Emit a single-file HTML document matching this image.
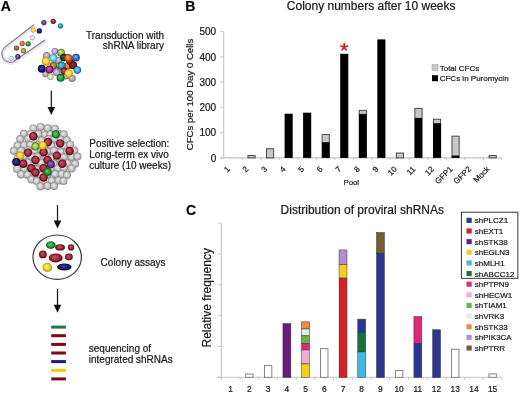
<!DOCTYPE html>
<html><head><meta charset="utf-8"><style>
html,body{margin:0;padding:0;background:#fff;}
body{width:520px;height:394px;overflow:hidden;font-family:"Liberation Sans",sans-serif;}
svg{display:block;will-change:transform;}
text{stroke:#222;stroke-width:0.2px;}
</style></head><body>
<svg width="520" height="394" viewBox="0 0 520 394">
<rect width="520" height="394" fill="#fff"/>
<defs><filter id="soft" x="-10%" y="-10%" width="120%" height="120%"><feGaussianBlur stdDeviation="0.35"/></filter><radialGradient id="g_gray" cx="0.5" cy="0.5" r="0.5" fx="0.42" fy="0.38">
<stop offset="0" stop-color="#eeeeee"/><stop offset="0.6" stop-color="#c6c6c6"/><stop offset="0.88" stop-color="#9a9a9a"/><stop offset="1" stop-color="#848484"/></radialGradient><radialGradient id="g_red" cx="0.5" cy="0.5" r="0.5" fx="0.42" fy="0.38">
<stop offset="0" stop-color="#c8586a"/><stop offset="0.6" stop-color="#a02a3a"/><stop offset="0.88" stop-color="#6e0c1a"/><stop offset="1" stop-color="#4e0610"/></radialGradient><radialGradient id="g_green" cx="0.5" cy="0.5" r="0.5" fx="0.42" fy="0.38">
<stop offset="0" stop-color="#6acc70"/><stop offset="0.6" stop-color="#2a9a3a"/><stop offset="0.88" stop-color="#136023"/><stop offset="1" stop-color="#136023"/></radialGradient><radialGradient id="g_yellow" cx="0.5" cy="0.5" r="0.5" fx="0.42" fy="0.38">
<stop offset="0" stop-color="#fff080"/><stop offset="0.6" stop-color="#f2d22a"/><stop offset="0.88" stop-color="#c8a010"/><stop offset="1" stop-color="#c8a010"/></radialGradient><radialGradient id="g_blue" cx="0.5" cy="0.5" r="0.5" fx="0.42" fy="0.38">
<stop offset="0" stop-color="#5a60c0"/><stop offset="0.6" stop-color="#2a2f8a"/><stop offset="0.88" stop-color="#141860"/><stop offset="1" stop-color="#141860"/></radialGradient><radialGradient id="g_purple" cx="0.5" cy="0.5" r="0.5" fx="0.42" fy="0.38">
<stop offset="0" stop-color="#9c70b8"/><stop offset="0.6" stop-color="#6c3a8a"/><stop offset="0.88" stop-color="#40205a"/><stop offset="1" stop-color="#40205a"/></radialGradient><radialGradient id="g_orange" cx="0.5" cy="0.5" r="0.5" fx="0.42" fy="0.38">
<stop offset="0" stop-color="#f8a060"/><stop offset="0.6" stop-color="#e86a20"/><stop offset="0.88" stop-color="#a84010"/><stop offset="1" stop-color="#a84010"/></radialGradient><radialGradient id="g_teal" cx="0.5" cy="0.5" r="0.5" fx="0.42" fy="0.38">
<stop offset="0" stop-color="#70d8e0"/><stop offset="0.6" stop-color="#20a0a8"/><stop offset="0.88" stop-color="#107080"/><stop offset="1" stop-color="#107080"/></radialGradient><radialGradient id="g_cyan" cx="0.5" cy="0.5" r="0.5" fx="0.42" fy="0.38">
<stop offset="0" stop-color="#c0f0ff"/><stop offset="0.6" stop-color="#70d0e8"/><stop offset="0.88" stop-color="#40a0c0"/><stop offset="1" stop-color="#40a0c0"/></radialGradient><radialGradient id="g_lav" cx="0.5" cy="0.5" r="0.5" fx="0.42" fy="0.38">
<stop offset="0" stop-color="#e8d8f0"/><stop offset="0.6" stop-color="#c0a0d0"/><stop offset="0.88" stop-color="#9070a8"/><stop offset="1" stop-color="#9070a8"/></radialGradient><radialGradient id="g_lime" cx="0.5" cy="0.5" r="0.5" fx="0.42" fy="0.38">
<stop offset="0" stop-color="#d0f080"/><stop offset="0.6" stop-color="#9ac840"/><stop offset="0.88" stop-color="#608020"/><stop offset="1" stop-color="#608020"/></radialGradient><radialGradient id="g_dkgreen" cx="0.5" cy="0.5" r="0.5" fx="0.42" fy="0.38">
<stop offset="0" stop-color="#406040"/><stop offset="0.6" stop-color="#1a3a20"/><stop offset="0.88" stop-color="#0a200a"/><stop offset="1" stop-color="#0a200a"/></radialGradient><radialGradient id="g_ltblue" cx="0.5" cy="0.5" r="0.5" fx="0.42" fy="0.38">
<stop offset="0" stop-color="#90d0ff"/><stop offset="0.6" stop-color="#4aa0e0"/><stop offset="0.88" stop-color="#2070b0"/><stop offset="1" stop-color="#2070b0"/></radialGradient><radialGradient id="g_dkred" cx="0.5" cy="0.5" r="0.5" fx="0.42" fy="0.38">
<stop offset="0" stop-color="#a04048"/><stop offset="0.6" stop-color="#701820"/><stop offset="0.88" stop-color="#400810"/><stop offset="1" stop-color="#400810"/></radialGradient><radialGradient id="g_magenta" cx="0.5" cy="0.5" r="0.5" fx="0.42" fy="0.38">
<stop offset="0" stop-color="#d070b0"/><stop offset="0.6" stop-color="#a03080"/><stop offset="0.88" stop-color="#601050"/><stop offset="1" stop-color="#601050"/></radialGradient><radialGradient id="g_brown" cx="0.5" cy="0.5" r="0.5" fx="0.42" fy="0.38">
<stop offset="0" stop-color="#d09060"/><stop offset="0.6" stop-color="#a06030"/><stop offset="0.88" stop-color="#704010"/><stop offset="1" stop-color="#704010"/></radialGradient><radialGradient id="g_navy" cx="0.5" cy="0.5" r="0.5" fx="0.42" fy="0.38">
<stop offset="0" stop-color="#4848a0"/><stop offset="0.6" stop-color="#1a1a70"/><stop offset="0.88" stop-color="#0a0a40"/><stop offset="1" stop-color="#0a0a40"/></radialGradient><radialGradient id="g_olive" cx="0.5" cy="0.5" r="0.5" fx="0.42" fy="0.38">
<stop offset="0" stop-color="#d0d080"/><stop offset="0.6" stop-color="#a0a040"/><stop offset="0.88" stop-color="#707020"/><stop offset="1" stop-color="#707020"/></radialGradient><radialGradient id="g_salmon" cx="0.5" cy="0.5" r="0.5" fx="0.42" fy="0.38">
<stop offset="0" stop-color="#f0a080"/><stop offset="0.6" stop-color="#d07050"/><stop offset="0.88" stop-color="#a04830"/><stop offset="1" stop-color="#a04830"/></radialGradient><radialGradient id="g_lavgray" cx="0.5" cy="0.5" r="0.5" fx="0.42" fy="0.38">
<stop offset="0" stop-color="#e0d8e8"/><stop offset="0.6" stop-color="#b0a0c0"/><stop offset="0.88" stop-color="#807090"/><stop offset="1" stop-color="#807090"/></radialGradient><radialGradient id="g_blue2" cx="0.5" cy="0.5" r="0.5" fx="0.42" fy="0.38">
<stop offset="0" stop-color="#80b0f0"/><stop offset="0.6" stop-color="#3a70c8"/><stop offset="0.88" stop-color="#204890"/><stop offset="1" stop-color="#204890"/></radialGradient><radialGradient id="g_olive2" cx="0.5" cy="0.5" r="0.5" fx="0.42" fy="0.38">
<stop offset="0" stop-color="#d0b070"/><stop offset="0.6" stop-color="#a08040"/><stop offset="0.88" stop-color="#705020"/><stop offset="1" stop-color="#705020"/></radialGradient><radialGradient id="g_palegreen" cx="0.5" cy="0.5" r="0.5" fx="0.42" fy="0.38">
<stop offset="0" stop-color="#f0fff0"/><stop offset="0.6" stop-color="#c0e0b0"/><stop offset="0.88" stop-color="#90b080"/><stop offset="1" stop-color="#90b080"/></radialGradient></defs>
<text x="0.8" y="11.2" font-family="Liberation Sans, sans-serif" font-size="14" font-weight="bold" fill="#000">A</text>
<g filter="url(#soft)">
<g fill="none" stroke-linecap="round">
<path d="M33.5,25 L5.6,46.6 A8.6,8.6 0 0 0 12.8,62 L44.6,40.2" stroke="#ebe6f0" stroke-width="3.4" transform="translate(0.8,0.8)"/>
<path d="M33.5,25 L5.6,46.6 A8.6,8.6 0 0 0 12.8,62 L44.6,40.2" stroke="#85788f" stroke-width="1.1"/>
</g>
<circle cx="33.2" cy="30.1" r="2.6" fill="url(#g_yellow)"/>
<circle cx="39.3" cy="30.9" r="2.6" fill="url(#g_navy)"/>
<circle cx="22.2" cy="43.4" r="2.6" fill="url(#g_salmon)"/>
<circle cx="28.2" cy="43.8" r="2.6" fill="url(#g_green)"/>
<circle cx="16.5" cy="48.1" r="2.6" fill="url(#g_brown)"/>
<circle cx="23.5" cy="50.7" r="2.6" fill="url(#g_olive)"/>
<circle cx="17.8" cy="56.7" r="2.6" fill="url(#g_purple)"/>
<circle cx="43.9" cy="22.6" r="2.6" fill="url(#g_purple)"/>
<circle cx="53.2" cy="21.3" r="2.6" fill="url(#g_red)"/>
<circle cx="60.5" cy="25.9" r="2.6" fill="url(#g_teal)"/>
<circle cx="32.4" cy="37.7" r="2.2" fill="#f4eef6" stroke="#b8a0c8" stroke-width="1"/>
<circle cx="11.2" cy="58.4" r="2.2" fill="#f4fafa" stroke="#90c0c8" stroke-width="1"/>
</g>
<g filter="url(#soft)">
<circle cx="58.5" cy="60.5" r="3.8" fill="url(#g_lavgray)"/>
<circle cx="67.5" cy="66.0" r="3.8" fill="url(#g_orange)"/>
<circle cx="70.0" cy="61.5" r="3.5" fill="url(#g_red)"/>
<circle cx="56.0" cy="70.0" r="3.5" fill="url(#g_olive2)"/>
<circle cx="45.5" cy="74.0" r="3.2" fill="url(#g_lav)"/>
<circle cx="66.0" cy="76.0" r="3.4" fill="url(#g_lavgray)"/>
<circle cx="54.8" cy="51.3" r="3.4" fill="url(#g_lav)"/>
<circle cx="61.1" cy="52.7" r="3.9" fill="url(#g_lime)"/>
<circle cx="46.6" cy="55.6" r="3.6" fill="url(#g_lavgray)"/>
<circle cx="53.3" cy="58.0" r="4" fill="url(#g_cyan)"/>
<circle cx="64.0" cy="57.6" r="3.8" fill="url(#g_dkgreen)"/>
<circle cx="68.3" cy="58.0" r="3.9" fill="url(#g_orange)"/>
<circle cx="76.0" cy="57.6" r="3.9" fill="url(#g_blue2)"/>
<circle cx="53.3" cy="65.8" r="3.8" fill="url(#g_olive2)"/>
<circle cx="46.1" cy="61.4" r="4.3" fill="url(#g_yellow)"/>
<circle cx="61.5" cy="65.8" r="4.2" fill="url(#g_teal)"/>
<circle cx="73.1" cy="65.3" r="4" fill="url(#g_dkred)"/>
<circle cx="77.4" cy="70.1" r="3.8" fill="url(#g_ltblue)"/>
<circle cx="41.8" cy="68.7" r="4" fill="url(#g_navy)"/>
<circle cx="49.5" cy="69.6" r="4" fill="url(#g_magenta)"/>
<circle cx="64.0" cy="71.1" r="3.6" fill="url(#g_red)"/>
<circle cx="56.7" cy="72.5" r="3.8" fill="url(#g_lav)"/>
<circle cx="72.1" cy="78.3" r="3.6" fill="url(#g_lavgray)"/>
<circle cx="68.8" cy="73.5" r="4.3" fill="url(#g_yellow)"/>
<circle cx="50.5" cy="76.8" r="3.2" fill="url(#g_palegreen)"/>
<circle cx="60.6" cy="77.8" r="4" fill="url(#g_green)"/>
</g>
<line x1="51.3" y1="90.4" x2="51.3" y2="109" stroke="#111" stroke-width="1.2"/>
<path d="M47.5,107 L55.099999999999994,107 L51.3,115 Z" fill="#111"/>
<line x1="57.5" y1="205" x2="57.5" y2="222.6" stroke="#111" stroke-width="1.2"/>
<path d="M53.7,220.6 L61.3,220.6 L57.5,228.6 Z" fill="#111"/>
<line x1="57.5" y1="289" x2="57.5" y2="306.7" stroke="#111" stroke-width="1.2"/>
<path d="M53.7,304.7 L61.3,304.7 L57.5,312.7 Z" fill="#111"/>
<g filter="url(#soft)">
<circle cx="33.4" cy="128.4" r="4.0" fill="url(#g_gray)"/>
<circle cx="40.6" cy="126.9" r="4.0" fill="url(#g_gray)"/>
<circle cx="47.6" cy="128.3" r="4.0" fill="url(#g_gray)"/>
<circle cx="54.8" cy="128.7" r="4.0" fill="url(#g_gray)"/>
<circle cx="23.8" cy="133.7" r="4.0" fill="url(#g_gray)"/>
<circle cx="30.6" cy="133.9" r="4.0" fill="url(#g_gray)"/>
<circle cx="38.4" cy="134.0" r="4.0" fill="url(#g_gray)"/>
<circle cx="45.0" cy="134.7" r="4.0" fill="url(#g_gray)"/>
<circle cx="50.4" cy="134.4" r="4.0" fill="url(#g_gray)"/>
<circle cx="58.5" cy="133.8" r="4.0" fill="url(#g_gray)"/>
<circle cx="63.8" cy="134.3" r="4.0" fill="url(#g_gray)"/>
<circle cx="20.2" cy="139.1" r="4.0" fill="url(#g_gray)"/>
<circle cx="28.3" cy="138.6" r="4.0" fill="url(#g_gray)"/>
<circle cx="33.4" cy="139.9" r="4.0" fill="url(#g_gray)"/>
<circle cx="41.7" cy="140.5" r="4.0" fill="url(#g_gray)"/>
<circle cx="48.7" cy="139.1" r="4.0" fill="url(#g_gray)"/>
<circle cx="54.6" cy="138.6" r="4.0" fill="url(#g_gray)"/>
<circle cx="60.9" cy="139.7" r="4.0" fill="url(#g_gray)"/>
<circle cx="66.9" cy="140.2" r="4.0" fill="url(#g_gray)"/>
<circle cx="17.6" cy="145.6" r="4.0" fill="url(#g_gray)"/>
<circle cx="24.2" cy="145.2" r="4.0" fill="url(#g_gray)"/>
<circle cx="30.4" cy="144.9" r="4.0" fill="url(#g_gray)"/>
<circle cx="37.7" cy="145.4" r="4.0" fill="url(#g_gray)"/>
<circle cx="44.2" cy="145.5" r="4.0" fill="url(#g_gray)"/>
<circle cx="51.3" cy="145.6" r="4.0" fill="url(#g_gray)"/>
<circle cx="58.0" cy="145.3" r="4.0" fill="url(#g_gray)"/>
<circle cx="64.1" cy="145.8" r="4.0" fill="url(#g_gray)"/>
<circle cx="70.2" cy="144.5" r="4.0" fill="url(#g_gray)"/>
<circle cx="13.9" cy="150.8" r="4.0" fill="url(#g_gray)"/>
<circle cx="21.1" cy="150.8" r="4.0" fill="url(#g_gray)"/>
<circle cx="28.1" cy="150.2" r="4.0" fill="url(#g_gray)"/>
<circle cx="34.7" cy="150.8" r="4.0" fill="url(#g_gray)"/>
<circle cx="41.6" cy="150.6" r="4.0" fill="url(#g_gray)"/>
<circle cx="47.5" cy="151.6" r="4.0" fill="url(#g_gray)"/>
<circle cx="54.0" cy="150.8" r="4.0" fill="url(#g_gray)"/>
<circle cx="61.0" cy="151.9" r="4.0" fill="url(#g_gray)"/>
<circle cx="67.4" cy="151.5" r="4.0" fill="url(#g_gray)"/>
<circle cx="74.4" cy="150.6" r="4.0" fill="url(#g_gray)"/>
<circle cx="18.1" cy="157.3" r="4.0" fill="url(#g_gray)"/>
<circle cx="23.9" cy="156.3" r="4.0" fill="url(#g_gray)"/>
<circle cx="31.5" cy="156.5" r="4.0" fill="url(#g_gray)"/>
<circle cx="37.5" cy="156.8" r="4.0" fill="url(#g_gray)"/>
<circle cx="45.2" cy="156.3" r="4.0" fill="url(#g_gray)"/>
<circle cx="51.9" cy="157.8" r="4.0" fill="url(#g_gray)"/>
<circle cx="57.6" cy="157.9" r="4.0" fill="url(#g_gray)"/>
<circle cx="63.9" cy="157.5" r="4.0" fill="url(#g_gray)"/>
<circle cx="71.5" cy="157.0" r="4.0" fill="url(#g_gray)"/>
<circle cx="77.5" cy="156.5" r="4.0" fill="url(#g_gray)"/>
<circle cx="21.3" cy="163.7" r="4.0" fill="url(#g_gray)"/>
<circle cx="28.4" cy="163.0" r="4.0" fill="url(#g_gray)"/>
<circle cx="34.8" cy="162.2" r="4.0" fill="url(#g_gray)"/>
<circle cx="41.3" cy="162.9" r="4.0" fill="url(#g_gray)"/>
<circle cx="48.6" cy="163.1" r="4.0" fill="url(#g_gray)"/>
<circle cx="53.9" cy="163.6" r="4.0" fill="url(#g_gray)"/>
<circle cx="61.6" cy="162.5" r="4.0" fill="url(#g_gray)"/>
<circle cx="67.8" cy="163.5" r="4.0" fill="url(#g_gray)"/>
<circle cx="75.1" cy="163.7" r="4.0" fill="url(#g_gray)"/>
<circle cx="17.1" cy="168.7" r="4.0" fill="url(#g_gray)"/>
<circle cx="24.2" cy="169.2" r="4.0" fill="url(#g_gray)"/>
<circle cx="30.0" cy="167.9" r="4.0" fill="url(#g_gray)"/>
<circle cx="36.8" cy="169.6" r="4.0" fill="url(#g_gray)"/>
<circle cx="43.5" cy="168.7" r="4.0" fill="url(#g_gray)"/>
<circle cx="50.7" cy="168.4" r="4.0" fill="url(#g_gray)"/>
<circle cx="57.9" cy="168.4" r="4.0" fill="url(#g_gray)"/>
<circle cx="64.1" cy="167.9" r="4.0" fill="url(#g_gray)"/>
<circle cx="71.6" cy="168.4" r="4.0" fill="url(#g_gray)"/>
<circle cx="21.1" cy="174.4" r="4.0" fill="url(#g_gray)"/>
<circle cx="27.6" cy="174.9" r="4.0" fill="url(#g_gray)"/>
<circle cx="34.7" cy="174.4" r="4.0" fill="url(#g_gray)"/>
<circle cx="41.0" cy="174.9" r="4.0" fill="url(#g_gray)"/>
<circle cx="47.5" cy="174.3" r="4.0" fill="url(#g_gray)"/>
<circle cx="55.2" cy="174.2" r="4.0" fill="url(#g_gray)"/>
<circle cx="61.7" cy="174.0" r="4.0" fill="url(#g_gray)"/>
<circle cx="67.0" cy="175.1" r="4.0" fill="url(#g_gray)"/>
<circle cx="31.5" cy="179.4" r="4.0" fill="url(#g_gray)"/>
<circle cx="36.8" cy="181.1" r="4.0" fill="url(#g_gray)"/>
<circle cx="43.4" cy="181.0" r="4.0" fill="url(#g_gray)"/>
<circle cx="51.7" cy="180.7" r="4.0" fill="url(#g_gray)"/>
<circle cx="58.6" cy="180.5" r="4.0" fill="url(#g_gray)"/>
<circle cx="63.5" cy="180.9" r="4.0" fill="url(#g_gray)"/>
<circle cx="40.5" cy="186.4" r="4.0" fill="url(#g_gray)"/>
<circle cx="47.5" cy="185.9" r="4.0" fill="url(#g_gray)"/>
<circle cx="54.1" cy="186.0" r="4.0" fill="url(#g_gray)"/>
<circle cx="33.4" cy="136.3" r="4.2" fill="url(#g_red)"/>
<circle cx="48.0" cy="142.0" r="4.2" fill="url(#g_red)"/>
<circle cx="60.2" cy="143.4" r="4.2" fill="url(#g_red)"/>
<circle cx="28.0" cy="152.6" r="4.2" fill="url(#g_red)"/>
<circle cx="43.6" cy="152.2" r="4.2" fill="url(#g_red)"/>
<circle cx="69.6" cy="151.0" r="4.2" fill="url(#g_red)"/>
<circle cx="56.8" cy="155.6" r="4.2" fill="url(#g_red)"/>
<circle cx="35.5" cy="160.0" r="4.2" fill="url(#g_red)"/>
<circle cx="47.6" cy="160.0" r="4.2" fill="url(#g_red)"/>
<circle cx="23.3" cy="163.7" r="4.2" fill="url(#g_red)"/>
<circle cx="31.4" cy="168.2" r="4.2" fill="url(#g_red)"/>
<circle cx="43.6" cy="168.2" r="4.2" fill="url(#g_red)"/>
<circle cx="62.3" cy="163.7" r="4.2" fill="url(#g_red)"/>
<circle cx="35.5" cy="172.5" r="4.2" fill="url(#g_red)"/>
<circle cx="43.6" cy="177.5" r="4.2" fill="url(#g_red)"/>
<circle cx="55.8" cy="134.3" r="4.1" fill="url(#g_green)"/>
<circle cx="47.6" cy="171.9" r="4.1" fill="url(#g_green)"/>
<circle cx="20.2" cy="155.6" r="4.1" fill="url(#g_yellow)"/>
<circle cx="42.6" cy="145.5" r="4.1" fill="url(#g_yellow)"/>
<circle cx="35.5" cy="146.5" r="4.1" fill="url(#g_lime)"/>
<circle cx="16.2" cy="162.0" r="4.1" fill="url(#g_navy)"/>
<circle cx="50.7" cy="164.3" r="4.1" fill="url(#g_purple)"/>
</g>
<ellipse cx="57.2" cy="257.2" rx="24.2" ry="22.2" fill="#fff" stroke="#3a3a3a" stroke-width="1.2"/>
<ellipse cx="50.8" cy="245.1" rx="4.9" ry="3.8" fill="url(#g_green)"/>
<ellipse cx="60.1" cy="247.4" rx="4.9" ry="3.1" fill="url(#g_red)"/>
<ellipse cx="71" cy="247.4" rx="3.1" ry="3.1" fill="url(#g_red)"/>
<ellipse cx="42.9" cy="254.4" rx="3.9" ry="3.9" fill="url(#g_red)"/>
<ellipse cx="55.7" cy="257.9" rx="7" ry="4.5" fill="url(#g_red)"/>
<ellipse cx="68.9" cy="256.9" rx="3.9" ry="3.3" fill="url(#g_red)"/>
<ellipse cx="47.3" cy="267.4" rx="4.9" ry="4.6" fill="url(#g_yellow)"/>
<ellipse cx="64.3" cy="267" rx="7.3" ry="3.5" fill="url(#g_navy)"/>
<rect x="51.2" y="325.6" width="14.7" height="3" fill="#1e7a3c"/>
<rect x="51.2" y="334.2" width="14.7" height="3" fill="#7a0a14"/>
<rect x="51.2" y="342.9" width="14.7" height="3" fill="#7a0a14"/>
<rect x="51.2" y="351.5" width="14.7" height="3" fill="#7a0a14"/>
<rect x="51.2" y="360.1" width="14.7" height="3" fill="#1a1a80"/>
<rect x="51.2" y="368.8" width="14.7" height="3" fill="#f5c800"/>
<rect x="51.2" y="377.4" width="14.7" height="3" fill="#7a0a14"/>
<text x="164" y="38.5" text-anchor="end" font-family="Liberation Sans, sans-serif" font-size="10" fill="#111">Transduction with</text>
<text x="164" y="49.2" text-anchor="end" font-family="Liberation Sans, sans-serif" font-size="10" fill="#111">shRNA library</text>
<text x="89.3" y="146.5" font-family="Liberation Sans, sans-serif" font-size="10" fill="#111">Positive selection:</text>
<text x="89.3" y="157.8" font-family="Liberation Sans, sans-serif" font-size="10" fill="#111">Long-term ex vivo</text>
<text x="89.3" y="169" font-family="Liberation Sans, sans-serif" font-size="10" fill="#111">culture (10 weeks)</text>
<text x="100.6" y="265.9" font-family="Liberation Sans, sans-serif" font-size="10" fill="#111">Colony assays</text>
<text x="88.8" y="351.8" font-family="Liberation Sans, sans-serif" font-size="10" fill="#111">sequencing of</text>
<text x="88.8" y="363.2" font-family="Liberation Sans, sans-serif" font-size="10" fill="#111">integrated shRNAs</text>
<text x="185.2" y="10.8" font-family="Liberation Sans, sans-serif" font-size="14" font-weight="bold" fill="#000">B</text>
<text x="286.8" y="9.6" font-family="Liberation Sans, sans-serif" font-size="12" fill="#111">Colony numbers after 10 weeks</text>
<line x1="223.7" y1="31.4" x2="223.7" y2="157.9" stroke="#c4c4c4" stroke-width="1.1"/>
<line x1="220" y1="157.9" x2="501.9" y2="157.9" stroke="#c4c4c4" stroke-width="1.1"/>
<line x1="220.3" y1="157.9" x2="223.7" y2="157.9" stroke="#c4c4c4" stroke-width="1"/>
<text x="216.2" y="161.6" text-anchor="end" font-family="Liberation Sans, sans-serif" font-size="10" fill="#111">0</text>
<line x1="220.3" y1="132.6" x2="223.7" y2="132.6" stroke="#c4c4c4" stroke-width="1"/>
<text x="216.2" y="136.3" text-anchor="end" font-family="Liberation Sans, sans-serif" font-size="10" fill="#111">100</text>
<line x1="220.3" y1="107.4" x2="223.7" y2="107.4" stroke="#c4c4c4" stroke-width="1"/>
<text x="216.2" y="111.1" text-anchor="end" font-family="Liberation Sans, sans-serif" font-size="10" fill="#111">200</text>
<line x1="220.3" y1="82.1" x2="223.7" y2="82.1" stroke="#c4c4c4" stroke-width="1"/>
<text x="216.2" y="85.8" text-anchor="end" font-family="Liberation Sans, sans-serif" font-size="10" fill="#111">300</text>
<line x1="220.3" y1="56.9" x2="223.7" y2="56.9" stroke="#c4c4c4" stroke-width="1"/>
<text x="216.2" y="60.6" text-anchor="end" font-family="Liberation Sans, sans-serif" font-size="10" fill="#111">400</text>
<line x1="220.3" y1="31.6" x2="223.7" y2="31.6" stroke="#c4c4c4" stroke-width="1"/>
<text x="216.2" y="35.3" text-anchor="end" font-family="Liberation Sans, sans-serif" font-size="10" fill="#111">500</text>
<line x1="242.2" y1="157.9" x2="242.2" y2="160.1" stroke="#c4c4c4" stroke-width="1"/>
<line x1="260.8" y1="157.9" x2="260.8" y2="160.1" stroke="#c4c4c4" stroke-width="1"/>
<line x1="279.4" y1="157.9" x2="279.4" y2="160.1" stroke="#c4c4c4" stroke-width="1"/>
<line x1="297.9" y1="157.9" x2="297.9" y2="160.1" stroke="#c4c4c4" stroke-width="1"/>
<line x1="316.4" y1="157.9" x2="316.4" y2="160.1" stroke="#c4c4c4" stroke-width="1"/>
<line x1="335.0" y1="157.9" x2="335.0" y2="160.1" stroke="#c4c4c4" stroke-width="1"/>
<line x1="353.5" y1="157.9" x2="353.5" y2="160.1" stroke="#c4c4c4" stroke-width="1"/>
<line x1="372.1" y1="157.9" x2="372.1" y2="160.1" stroke="#c4c4c4" stroke-width="1"/>
<line x1="390.6" y1="157.9" x2="390.6" y2="160.1" stroke="#c4c4c4" stroke-width="1"/>
<line x1="409.2" y1="157.9" x2="409.2" y2="160.1" stroke="#c4c4c4" stroke-width="1"/>
<line x1="427.8" y1="157.9" x2="427.8" y2="160.1" stroke="#c4c4c4" stroke-width="1"/>
<line x1="446.3" y1="157.9" x2="446.3" y2="160.1" stroke="#c4c4c4" stroke-width="1"/>
<line x1="464.9" y1="157.9" x2="464.9" y2="160.1" stroke="#c4c4c4" stroke-width="1"/>
<line x1="483.4" y1="157.9" x2="483.4" y2="160.1" stroke="#c4c4c4" stroke-width="1"/>
<line x1="501.9" y1="157.9" x2="501.9" y2="160.1" stroke="#c4c4c4" stroke-width="1"/>
<text transform="translate(193.4,94.5) rotate(-90)" text-anchor="middle" font-family="Liberation Sans, sans-serif" font-size="9.6" fill="#111">CFCs per 100 Day 0 Cells</text>
<text transform="translate(230.5,169.6) rotate(-45)" text-anchor="end" font-family="Liberation Sans, sans-serif" font-size="8" fill="#111">1</text>
<rect x="247.92" y="155.57" width="7.2" height="2.33" fill="#c8c8c8" stroke="#3a3a3a" stroke-width="0.9"/>
<text transform="translate(249.0,169.6) rotate(-45)" text-anchor="end" font-family="Liberation Sans, sans-serif" font-size="8" fill="#111">2</text>
<rect x="266.47" y="148.75" width="7.2" height="9.15" fill="#c8c8c8" stroke="#3a3a3a" stroke-width="0.9"/>
<text transform="translate(267.6,169.6) rotate(-45)" text-anchor="end" font-family="Liberation Sans, sans-serif" font-size="8" fill="#111">3</text>
<rect x="284.6" y="113.7" width="8.1" height="44.2" fill="#000"/>
<text transform="translate(286.1,169.6) rotate(-45)" text-anchor="end" font-family="Liberation Sans, sans-serif" font-size="8" fill="#111">4</text>
<rect x="303.1" y="112.7" width="8.1" height="45.2" fill="#000"/>
<text transform="translate(304.7,169.6) rotate(-45)" text-anchor="end" font-family="Liberation Sans, sans-serif" font-size="8" fill="#111">5</text>
<rect x="322.12" y="134.61" width="7.2" height="7.89" fill="#c8c8c8" stroke="#3a3a3a" stroke-width="0.9"/>
<rect x="321.7" y="142.5" width="8.1" height="15.4" fill="#000"/>
<text transform="translate(323.2,169.6) rotate(-45)" text-anchor="end" font-family="Liberation Sans, sans-serif" font-size="8" fill="#111">6</text>
<rect x="340.2" y="53.8" width="8.1" height="104.1" fill="#000"/>
<text transform="translate(341.8,169.6) rotate(-45)" text-anchor="end" font-family="Liberation Sans, sans-serif" font-size="8" fill="#111">7</text>
<rect x="359.22" y="110.36" width="7.2" height="3.84" fill="#c8c8c8" stroke="#3a3a3a" stroke-width="0.9"/>
<rect x="358.8" y="114.2" width="8.1" height="43.7" fill="#000"/>
<text transform="translate(360.3,169.6) rotate(-45)" text-anchor="end" font-family="Liberation Sans, sans-serif" font-size="8" fill="#111">8</text>
<rect x="377.3" y="39.4" width="8.1" height="118.5" fill="#000"/>
<text transform="translate(378.9,169.6) rotate(-45)" text-anchor="end" font-family="Liberation Sans, sans-serif" font-size="8" fill="#111">9</text>
<rect x="396.32" y="153.05" width="7.2" height="4.85" fill="#c8c8c8" stroke="#3a3a3a" stroke-width="0.9"/>
<text transform="translate(397.4,169.6) rotate(-45)" text-anchor="end" font-family="Liberation Sans, sans-serif" font-size="8" fill="#111">10</text>
<rect x="414.88" y="108.34" width="7.2" height="9.91" fill="#c8c8c8" stroke="#3a3a3a" stroke-width="0.9"/>
<rect x="414.4" y="118.2" width="8.1" height="39.7" fill="#000"/>
<text transform="translate(416.0,169.6) rotate(-45)" text-anchor="end" font-family="Liberation Sans, sans-serif" font-size="8" fill="#111">11</text>
<rect x="433.42" y="119.20" width="7.2" height="4.35" fill="#c8c8c8" stroke="#3a3a3a" stroke-width="0.9"/>
<rect x="433.0" y="123.5" width="8.1" height="34.4" fill="#000"/>
<text transform="translate(434.5,169.6) rotate(-45)" text-anchor="end" font-family="Liberation Sans, sans-serif" font-size="8" fill="#111">12</text>
<rect x="451.97" y="136.12" width="7.2" height="19.76" fill="#c8c8c8" stroke="#3a3a3a" stroke-width="0.9"/>
<rect x="451.5" y="155.9" width="8.1" height="2.0" fill="#000"/>
<text transform="translate(453.1,169.6) rotate(-45)" text-anchor="end" font-family="Liberation Sans, sans-serif" font-size="8" fill="#111">GFP1</text>
<text transform="translate(471.6,169.6) rotate(-45)" text-anchor="end" font-family="Liberation Sans, sans-serif" font-size="8" fill="#111">GFP2</text>
<rect x="489.07" y="155.57" width="7.2" height="2.33" fill="#c8c8c8" stroke="#3a3a3a" stroke-width="0.9"/>
<text transform="translate(490.2,169.6) rotate(-45)" text-anchor="end" font-family="Liberation Sans, sans-serif" font-size="8" fill="#111">Mock</text>
<text x="343.5" y="184.9" font-family="Liberation Sans, sans-serif" font-size="7.8" fill="#111">Pool</text>
<path d="M344.2,47 L344.20,43.60 M344.2,47 L347.43,45.95 M344.2,47 L346.20,49.75 M344.2,47 L342.20,49.75 M344.2,47 L340.97,45.95 " stroke="#c8202c" stroke-width="1.7" stroke-linecap="round"/>
<rect x="432" y="64.6" width="6" height="6" fill="#c8c8c8" stroke="#999" stroke-width="0.5"/>
<rect x="432" y="75.2" width="6" height="6" fill="#000"/>
<text x="439.7" y="70.6" font-family="Liberation Sans, sans-serif" font-size="8" fill="#111">Total CFCs</text>
<text x="439.7" y="80.8" font-family="Liberation Sans, sans-serif" font-size="8" fill="#111">CFCs in Puromycin</text>
<text x="186.1" y="214.6" font-family="Liberation Sans, sans-serif" font-size="14" font-weight="bold" fill="#000">C</text>
<text x="280.6" y="214" font-family="Liberation Sans, sans-serif" font-size="12" fill="#111">Distribution of proviral shRNAs</text>
<line x1="221.35" y1="223.2" x2="221.35" y2="377.3" stroke="#c4c4c4" stroke-width="1.1"/>
<line x1="216.5" y1="377.3" x2="502.0" y2="377.3" stroke="#c4c4c4" stroke-width="1.1"/>
<line x1="218" y1="377.3" x2="221.35" y2="377.3" stroke="#c4c4c4" stroke-width="1"/>
<line x1="218" y1="346.5" x2="221.35" y2="346.5" stroke="#c4c4c4" stroke-width="1"/>
<line x1="218" y1="315.7" x2="221.35" y2="315.7" stroke="#c4c4c4" stroke-width="1"/>
<line x1="218" y1="284.8" x2="221.35" y2="284.8" stroke="#c4c4c4" stroke-width="1"/>
<line x1="218" y1="254.0" x2="221.35" y2="254.0" stroke="#c4c4c4" stroke-width="1"/>
<line x1="218" y1="223.2" x2="221.35" y2="223.2" stroke="#c4c4c4" stroke-width="1"/>
<line x1="221.3" y1="377.3" x2="221.3" y2="379.8" stroke="#c4c4c4" stroke-width="1"/>
<text x="230.7" y="392.2" text-anchor="middle" font-family="Liberation Sans, sans-serif" font-size="8.4" fill="#111">1</text>
<line x1="240.1" y1="377.3" x2="240.1" y2="379.8" stroke="#c4c4c4" stroke-width="1"/>
<text x="249.4" y="392.2" text-anchor="middle" font-family="Liberation Sans, sans-serif" font-size="8.4" fill="#111">2</text>
<line x1="258.8" y1="377.3" x2="258.8" y2="379.8" stroke="#c4c4c4" stroke-width="1"/>
<text x="268.1" y="392.2" text-anchor="middle" font-family="Liberation Sans, sans-serif" font-size="8.4" fill="#111">3</text>
<line x1="277.5" y1="377.3" x2="277.5" y2="379.8" stroke="#c4c4c4" stroke-width="1"/>
<text x="286.8" y="392.2" text-anchor="middle" font-family="Liberation Sans, sans-serif" font-size="8.4" fill="#111">4</text>
<line x1="296.2" y1="377.3" x2="296.2" y2="379.8" stroke="#c4c4c4" stroke-width="1"/>
<text x="305.5" y="392.2" text-anchor="middle" font-family="Liberation Sans, sans-serif" font-size="8.4" fill="#111">5</text>
<line x1="314.9" y1="377.3" x2="314.9" y2="379.8" stroke="#c4c4c4" stroke-width="1"/>
<text x="324.3" y="392.2" text-anchor="middle" font-family="Liberation Sans, sans-serif" font-size="8.4" fill="#111">6</text>
<line x1="333.6" y1="377.3" x2="333.6" y2="379.8" stroke="#c4c4c4" stroke-width="1"/>
<text x="343.0" y="392.2" text-anchor="middle" font-family="Liberation Sans, sans-serif" font-size="8.4" fill="#111">7</text>
<line x1="352.3" y1="377.3" x2="352.3" y2="379.8" stroke="#c4c4c4" stroke-width="1"/>
<text x="361.7" y="392.2" text-anchor="middle" font-family="Liberation Sans, sans-serif" font-size="8.4" fill="#111">8</text>
<line x1="371.0" y1="377.3" x2="371.0" y2="379.8" stroke="#c4c4c4" stroke-width="1"/>
<text x="380.4" y="392.2" text-anchor="middle" font-family="Liberation Sans, sans-serif" font-size="8.4" fill="#111">9</text>
<line x1="389.7" y1="377.3" x2="389.7" y2="379.8" stroke="#c4c4c4" stroke-width="1"/>
<text x="399.1" y="392.2" text-anchor="middle" font-family="Liberation Sans, sans-serif" font-size="8.4" fill="#111">10</text>
<line x1="408.5" y1="377.3" x2="408.5" y2="379.8" stroke="#c4c4c4" stroke-width="1"/>
<text x="417.8" y="392.2" text-anchor="middle" font-family="Liberation Sans, sans-serif" font-size="8.4" fill="#111">11</text>
<line x1="427.2" y1="377.3" x2="427.2" y2="379.8" stroke="#c4c4c4" stroke-width="1"/>
<text x="436.5" y="392.2" text-anchor="middle" font-family="Liberation Sans, sans-serif" font-size="8.4" fill="#111">12</text>
<line x1="445.9" y1="377.3" x2="445.9" y2="379.8" stroke="#c4c4c4" stroke-width="1"/>
<text x="455.2" y="392.2" text-anchor="middle" font-family="Liberation Sans, sans-serif" font-size="8.4" fill="#111">13</text>
<line x1="464.6" y1="377.3" x2="464.6" y2="379.8" stroke="#c4c4c4" stroke-width="1"/>
<text x="473.9" y="392.2" text-anchor="middle" font-family="Liberation Sans, sans-serif" font-size="8.4" fill="#111">14</text>
<line x1="483.3" y1="377.3" x2="483.3" y2="379.8" stroke="#c4c4c4" stroke-width="1"/>
<text x="492.6" y="392.2" text-anchor="middle" font-family="Liberation Sans, sans-serif" font-size="8.4" fill="#111">15</text>
<line x1="502.0" y1="377.3" x2="502.0" y2="379.8" stroke="#c4c4c4" stroke-width="1"/>
<text transform="translate(210.6,297.8) rotate(-90)" text-anchor="middle" font-family="Liberation Sans, sans-serif" font-size="12" fill="#111">Relative frequency</text>
<rect x="245.71" y="374.05" width="7.4" height="3.25" fill="#fff" stroke="#777" stroke-width="0.9"/>
<rect x="264.43" y="365.45" width="7.4" height="11.85" fill="#fff" stroke="#777" stroke-width="0.9"/>
<rect x="282.94" y="323.55" width="7.9" height="54.00" fill="#6a1a7a" stroke="#333" stroke-width="0.5"/>
<rect x="301.65" y="321.85" width="7.9" height="7.10" fill="#f08a40" stroke="#333" stroke-width="0.5"/>
<rect x="301.65" y="328.95" width="7.9" height="6.90" fill="#dcefe6" stroke="#333" stroke-width="0.5"/>
<rect x="301.65" y="335.85" width="7.9" height="7.40" fill="#6ab34a" stroke="#333" stroke-width="0.5"/>
<rect x="301.65" y="343.25" width="7.9" height="6.70" fill="#dc2a7a" stroke="#333" stroke-width="0.5"/>
<rect x="301.65" y="349.95" width="7.9" height="14.00" fill="#f2aed0" stroke="#333" stroke-width="0.5"/>
<rect x="301.65" y="363.95" width="7.9" height="13.60" fill="#f6d020" stroke="#333" stroke-width="0.5"/>
<rect x="320.56" y="348.65" width="7.4" height="28.65" fill="#fff" stroke="#777" stroke-width="0.9"/>
<rect x="339.07" y="249.95" width="7.9" height="14.60" fill="#b48ed2" stroke="#333" stroke-width="0.5"/>
<rect x="339.07" y="264.55" width="7.9" height="13.50" fill="#f6d020" stroke="#333" stroke-width="0.5"/>
<rect x="339.07" y="278.05" width="7.9" height="99.50" fill="#d42027" stroke="#333" stroke-width="0.5"/>
<rect x="357.78" y="319.15" width="7.9" height="13.60" fill="#2b3592" stroke="#333" stroke-width="0.5"/>
<rect x="357.78" y="332.75" width="7.9" height="19.20" fill="#1a7038" stroke="#333" stroke-width="0.5"/>
<rect x="357.78" y="351.95" width="7.9" height="25.60" fill="#45b8e0" stroke="#333" stroke-width="0.5"/>
<rect x="376.49" y="232.45" width="7.9" height="20.70" fill="#7a5a2e" stroke="#333" stroke-width="0.5"/>
<rect x="376.49" y="253.15" width="7.9" height="124.40" fill="#2b3592" stroke="#333" stroke-width="0.5"/>
<rect x="395.40" y="370.55" width="7.4" height="6.75" fill="#fff" stroke="#777" stroke-width="0.9"/>
<rect x="413.91" y="316.55" width="7.9" height="26.80" fill="#dc2a7a" stroke="#333" stroke-width="0.5"/>
<rect x="413.91" y="343.35" width="7.9" height="34.20" fill="#2b3592" stroke="#333" stroke-width="0.5"/>
<rect x="432.62" y="329.75" width="7.9" height="47.80" fill="#2b3592" stroke="#333" stroke-width="0.5"/>
<rect x="451.53" y="349.25" width="7.4" height="28.05" fill="#fff" stroke="#777" stroke-width="0.9"/>
<rect x="488.94" y="373.85" width="7.4" height="3.45" fill="#fff" stroke="#777" stroke-width="0.9"/>
<rect x="461.4" y="212.2" width="56.5" height="66.1" fill="none" stroke="#222" stroke-width="0.9"/>
<rect x="466.5" y="217.8" width="5.2" height="5.1" fill="#2b3592"/>
<text x="474.8" y="223.3" font-family="Liberation Sans, sans-serif" font-size="8" fill="#111">shPLCZ1</text>
<rect x="466.5" y="228.4" width="5.2" height="5.1" fill="#d42027"/>
<text x="474.8" y="233.9" font-family="Liberation Sans, sans-serif" font-size="8" fill="#111">shEXT1</text>
<rect x="466.5" y="239.1" width="5.2" height="5.1" fill="#6a1a7a"/>
<text x="474.8" y="244.6" font-family="Liberation Sans, sans-serif" font-size="8" fill="#111">shSTK38</text>
<rect x="466.5" y="249.7" width="5.2" height="5.1" fill="#f6d020"/>
<text x="474.8" y="255.2" font-family="Liberation Sans, sans-serif" font-size="8" fill="#111">shEGLN3</text>
<rect x="466.5" y="260.4" width="5.2" height="5.1" fill="#45b8e0"/>
<text x="474.8" y="265.9" font-family="Liberation Sans, sans-serif" font-size="8" fill="#111">shMLH1</text>
<rect x="466.5" y="271.0" width="5.2" height="5.1" fill="#1a7038"/>
<text x="474.8" y="276.5" font-family="Liberation Sans, sans-serif" font-size="8" fill="#111">shABCC12</text>
<rect x="466.5" y="281.6" width="5.2" height="5.1" fill="#dc2a7a"/>
<text x="474.8" y="287.1" font-family="Liberation Sans, sans-serif" font-size="8" fill="#111">shPTPN9</text>
<rect x="466.5" y="292.3" width="5.2" height="5.1" fill="#f2aed0"/>
<text x="474.8" y="297.8" font-family="Liberation Sans, sans-serif" font-size="8" fill="#111">shHECW1</text>
<rect x="466.5" y="302.9" width="5.2" height="5.1" fill="#6ab34a"/>
<text x="474.8" y="308.4" font-family="Liberation Sans, sans-serif" font-size="8" fill="#111">shTIAM1</text>
<rect x="466.5" y="313.6" width="5.2" height="5.1" fill="#dcefe6"/>
<text x="474.8" y="319.1" font-family="Liberation Sans, sans-serif" font-size="8" fill="#111">shVRK3</text>
<rect x="466.5" y="324.2" width="5.2" height="5.1" fill="#f08a40"/>
<text x="474.8" y="329.7" font-family="Liberation Sans, sans-serif" font-size="8" fill="#111">shSTK33</text>
<rect x="466.5" y="334.8" width="5.2" height="5.1" fill="#b48ed2"/>
<text x="474.8" y="340.3" font-family="Liberation Sans, sans-serif" font-size="8" fill="#111">shPIK3CA</text>
<rect x="466.5" y="345.5" width="5.2" height="5.1" fill="#7a5a2e"/>
<text x="474.8" y="351.0" font-family="Liberation Sans, sans-serif" font-size="8" fill="#111">shPTRR</text>
</svg>
</body></html>
